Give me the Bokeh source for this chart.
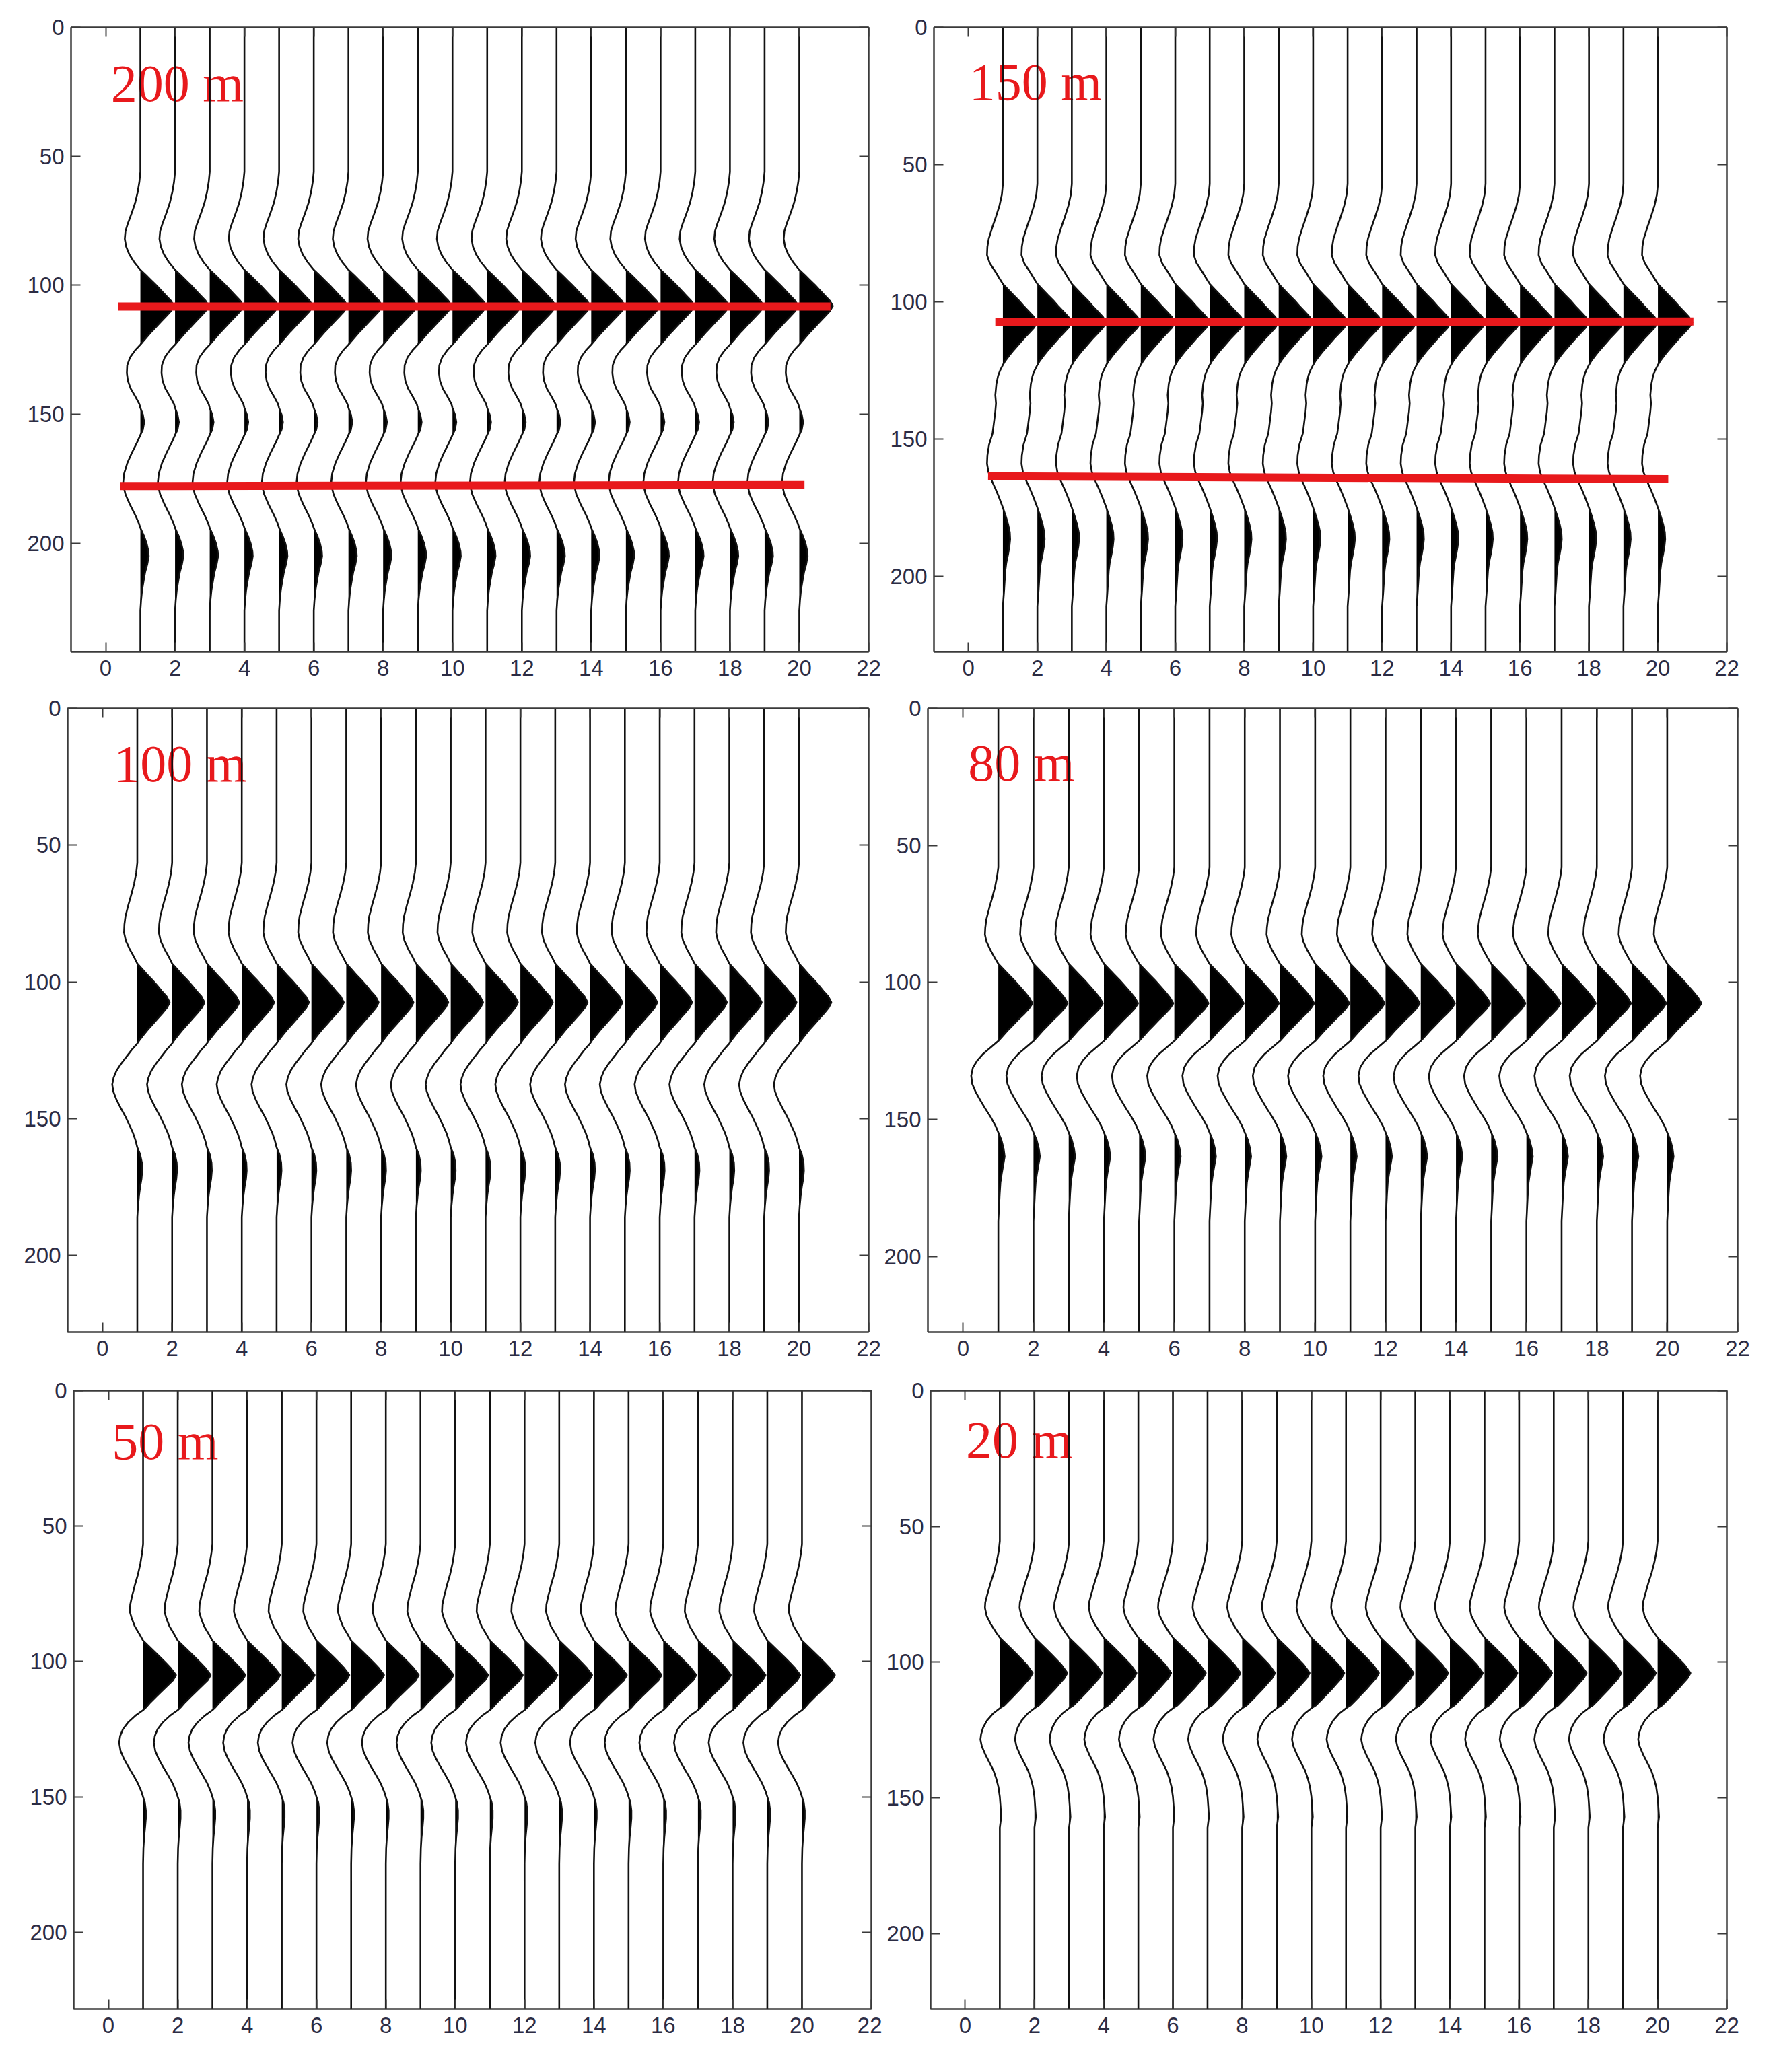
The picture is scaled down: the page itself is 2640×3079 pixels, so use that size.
import numpy as np
from bokeh.plotting import figure
from bokeh.models import Range1d, FixedTicker, LinearAxis
from bokeh.layouts import column, row
from bokeh.embed import file_html
from bokeh.resources import INLINE
from bokeh.core.properties import value

# ---------------- data ----------------
trace_positions = list(range(1, 21))
x_ticks = list(range(0, 23, 2))
y_ticks = [0, 50, 100, 150, 200]
panel_labels = ["200 m", "150 m", "100 m", "80 m", "50 m", "20 m"]
time_max = [242, 227.5, 228, 227.5, 228.4, 227.8]

# one wiggle (time, amplitude in trace spacings) per panel
t_200 = [0, 56, 60, 64, 68, 72, 76, 79, 82, 85, 88, 91, 94, 96, 98, 100, 102, 104, 106, 108,
         110, 112, 114, 116, 118, 120, 122, 123, 125, 128, 131, 134, 137, 140, 143, 146, 147.5,
         150, 153, 156, 158, 161, 165, 169, 173, 177, 181, 185, 189, 192, 194, 197, 200, 203,
         205, 208, 211, 214, 218, 222, 226, 242]
a_200 = [0, 0, -0.03, -0.08, -0.15, -0.25, -0.36, -0.43, -0.45, -0.41, -0.32, -0.18, 0, 0.16,
         0.31, 0.46, 0.6, 0.74, 0.88, 0.97, 0.88, 0.74, 0.6, 0.46, 0.32, 0.19, 0.06, 0, -0.14,
         -0.3, -0.38, -0.39, -0.36, -0.28, -0.15, -0.03, 0, 0.07, 0.11, 0.07, 0, -0.1, -0.25,
         -0.38, -0.47, -0.5, -0.43, -0.3, -0.15, -0.05, 0, 0.1, 0.18, 0.23, 0.24, 0.2, 0.14,
         0.1, 0.05, 0.02, 0, 0]

t_150 = [0, 57, 61, 65, 69, 73, 77, 80, 83, 86, 89, 91.5, 93.5, 95.5, 97.5, 99.5, 101.5, 103.5,
         105.5, 107.5, 109.5, 111.5, 113.5, 115.5, 117.5, 119.5, 121.5, 123, 125, 127, 130, 134,
         137, 140, 144, 148, 152, 156, 159, 162, 165, 168, 171, 174, 175, 178, 181, 184, 186.5,
         189, 192, 195, 198, 202, 206, 211, 227.5]
a_150 = [0, 0, -0.03, -0.1, -0.2, -0.31, -0.41, -0.45, -0.46, -0.38, -0.22, -0.1, 0, 0.15, 0.3,
         0.46, 0.6, 0.75, 0.9, 1.0, 0.9, 0.75, 0.6, 0.46, 0.32, 0.19, 0.07, 0, -0.08, -0.14,
         -0.19, -0.22, -0.2, -0.22, -0.26, -0.3, -0.4, -0.45, -0.46, -0.42, -0.33, -0.22, -0.12,
         -0.03, 0, 0.08, 0.15, 0.2, 0.21, 0.19, 0.15, 0.1, 0.07, 0.05, 0.03, 0, 0]

t_100 = [0, 56.5, 60, 64, 68, 72, 76, 79, 82, 85, 88, 91, 93.3, 95.3, 97.3, 99.3, 101.3, 103.3,
         105.3, 107.5, 109.5, 111.5, 113.5, 115.5, 117.5, 119.5, 121.5, 122.5, 125, 127.5, 130,
         132.5, 135, 137.5, 140, 143, 146, 149, 152, 155, 158, 160.5, 163, 166, 169, 172, 175,
         178, 182, 186, 228]
a_100 = [0, 0, -0.03, -0.09, -0.17, -0.26, -0.34, -0.37, -0.38, -0.33, -0.22, -0.09, 0, 0.14,
         0.28, 0.43, 0.57, 0.7, 0.84, 0.93, 0.85, 0.72, 0.58, 0.44, 0.3, 0.17, 0.05, 0, -0.17,
         -0.32, -0.47, -0.6, -0.68, -0.72, -0.69, -0.6, -0.48, -0.35, -0.24, -0.13, -0.05, 0,
         0.08, 0.13, 0.14, 0.12, 0.08, 0.05, 0.02, 0, 0]

t_80 = [0, 58, 61, 65, 69, 73, 77, 80, 82.5, 85, 88, 91, 93.2, 95.2, 97.2, 99.2, 101.2, 103.2,
        105.4, 107.6, 109.6, 111.6, 113.6, 115.6, 117.6, 119.6, 121.3, 123.5, 126, 128.5, 131,
        134, 137, 140, 143, 146, 149, 152, 154.7, 157.5, 160.5, 163.5, 166.5, 169.5, 173, 177,
        182, 187, 227.5]
a_80 = [0, 0, -0.03, -0.09, -0.17, -0.26, -0.34, -0.37, -0.38, -0.34, -0.23, -0.1, 0, 0.15,
        0.3, 0.45, 0.59, 0.73, 0.87, 0.97, 0.87, 0.72, 0.56, 0.41, 0.26, 0.12, 0, -0.2, -0.43,
        -0.6, -0.72, -0.77, -0.74, -0.64, -0.51, -0.37, -0.22, -0.09, 0, 0.09, 0.15, 0.18, 0.14,
        0.1, 0.06, 0.04, 0.02, 0, 0]

t_50 = [0, 56.7, 60, 64, 68, 72, 76, 79, 81.7, 84, 87, 90, 92.3, 94.3, 96.3, 98.3, 100.3, 102.5,
        105, 107, 109, 111, 113, 115, 117, 118, 120, 122.5, 125, 127.5, 130, 133, 136, 139, 142,
        145, 148, 150, 152, 155, 158, 161, 165, 169, 174.7, 228.4]
a_50 = [0, 0, -0.03, -0.08, -0.15, -0.24, -0.32, -0.37, -0.38, -0.33, -0.24, -0.1, 0, 0.16,
        0.32, 0.48, 0.64, 0.8, 0.95, 0.86, 0.7, 0.54, 0.38, 0.22, 0.08, 0, -0.22, -0.43, -0.58,
        -0.66, -0.69, -0.65, -0.55, -0.42, -0.28, -0.15, -0.05, 0, 0.05, 0.08, 0.08, 0.06, 0.03,
        0.01, 0, 0]

t_20 = [0, 55.4, 59, 63, 67, 71, 75, 78, 80, 83, 86, 89, 91, 93, 95, 97, 99, 101, 104, 106, 108,
        110, 112, 114, 116, 117, 119, 121.5, 124, 126.5, 128.5, 131, 134, 137, 140, 143, 146,
        149.6, 153, 157, 161, 227.8]
a_20 = [0, 0, -0.03, -0.09, -0.17, -0.27, -0.36, -0.42, -0.43, -0.38, -0.26, -0.11, 0, 0.16,
        0.32, 0.48, 0.63, 0.78, 0.95, 0.86, 0.72, 0.58, 0.43, 0.28, 0.12, 0, -0.2, -0.37, -0.48,
        -0.54, -0.56, -0.52, -0.42, -0.3, -0.18, -0.1, -0.04, 0, 0.02, 0.04, 0, 0]

label_x = [0.15, 0.02, 0.33, 0.14, 0.1, 0.02]
label_y = [21.6, 19.8, 20.2, 20.0, 18.7, 18.0]

# red horizon marks
red200_x0 = [0.36, 0.42]
red200_x1 = [20.9, 20.15]
red200_y0 = [108.2, 177.8]
red200_y1 = [108.2, 177.4]
red150_x0 = [0.78, 0.57]
red150_x1 = [21.03, 20.3]
red150_y0 = [107.4, 163.6]
red150_y1 = [107.2, 164.6]

times = [t_200, t_150, t_100, t_80, t_50, t_20]
amps = [a_200, a_150, a_100, a_80, a_50, a_20]
reds = [(red200_x0, red200_x1, red200_y0, red200_y1),
        (red150_x0, red150_x1, red150_y0, red150_y1),
        None, None, None, None]

# ---------------- layout (width, height, left, right, top, bottom) ----------------
geom = [(1310, 1029, 105, 20, 40, 61),
        (1310, 1029, 77, 55, 39, 57),
        (1310, 1012, 100, 20, 20, 61),
        (1310, 1012, 68, 39, 23, 62),
        (1310, 1010, 109, 16, 22, 63),
        (1310, 1010, 72, 55, 25, 66)]

AX = "#3a3a3a"
LBL = "#2c2c44"
RED = "#e8191c"


def style_axis(ax, labels=True, standoff=10):
    ax.axis_line_color = AX
    ax.axis_line_width = 2
    ax.major_tick_line_color = AX
    ax.major_tick_line_width = 2
    ax.major_tick_in = 14
    ax.major_tick_out = 0
    ax.minor_tick_line_color = None
    if labels:
        ax.major_label_text_font = "Liberation Sans"
        ax.major_label_text_font_size = "33px"
        ax.major_label_text_color = LBL
        ax.major_label_standoff = standoff
    else:
        ax.major_label_text_font_size = "1px"
        ax.major_label_text_color = None
        ax.major_label_standoff = 0


figs = []
for k in range(6):
    W, H, l, r, t, b = geom[k]
    p = figure(width=W, height=H, output_backend="svg", toolbar_location=None,
               x_range=Range1d(-1, 22), y_range=Range1d(time_max[k], 0),
               min_border_left=l, min_border_right=r, min_border_top=t,
               min_border_bottom=b)
    p.xgrid.visible = False
    p.ygrid.visible = False
    p.background_fill_color = "white"
    p.border_fill_color = "white"
    p.outline_line_color = AX
    p.outline_line_width = 2

    p.xaxis.ticker = FixedTicker(ticks=x_ticks)
    p.yaxis.ticker = FixedTicker(ticks=y_ticks)
    style_axis(p.xaxis[0], True, 12)
    style_axis(p.yaxis[0], True, 10)
    top_ax = LinearAxis(ticker=FixedTicker(ticks=x_ticks))
    right_ax = LinearAxis(ticker=FixedTicker(ticks=y_ticks))
    style_axis(top_ax, False)
    style_axis(right_ax, False)
    p.add_layout(top_ax, "above")
    p.add_layout(right_ax, "right")

    # label
    p.text(x=[label_x[k]], y=[label_y[k]], text=[panel_labels[k]],
           text_font=value("Liberation Serif"), text_font_size="78px",
           text_color=RED, text_baseline="alphabetic", text_align="left")

    tt = np.array(times[k], dtype=float)
    aa = np.array(amps[k], dtype=float)
    pos = np.maximum(aa, 0.0)
    for xi in trace_positions:
        p.harea(x1=np.full_like(tt, xi), x2=xi + pos, y=tt, fill_color="black",
                fill_alpha=1.0)
    p.multi_line(xs=[list(xi + aa) for xi in trace_positions],
                 ys=[list(tt) for _ in trace_positions],
                 line_color="#111111", line_width=2.6)

    if reds[k] is not None:
        x0, x1, y0, y1 = reds[k]
        p.segment(x0=x0, x1=x1, y0=y0, y1=y1, line_color=RED, line_width=12)
    figs.append(p)

layout = column(row(figs[0], figs[1]), row(figs[2], figs[3]), row(figs[4], figs[5]))

open("out.html", "w").write(file_html(layout, INLINE))
